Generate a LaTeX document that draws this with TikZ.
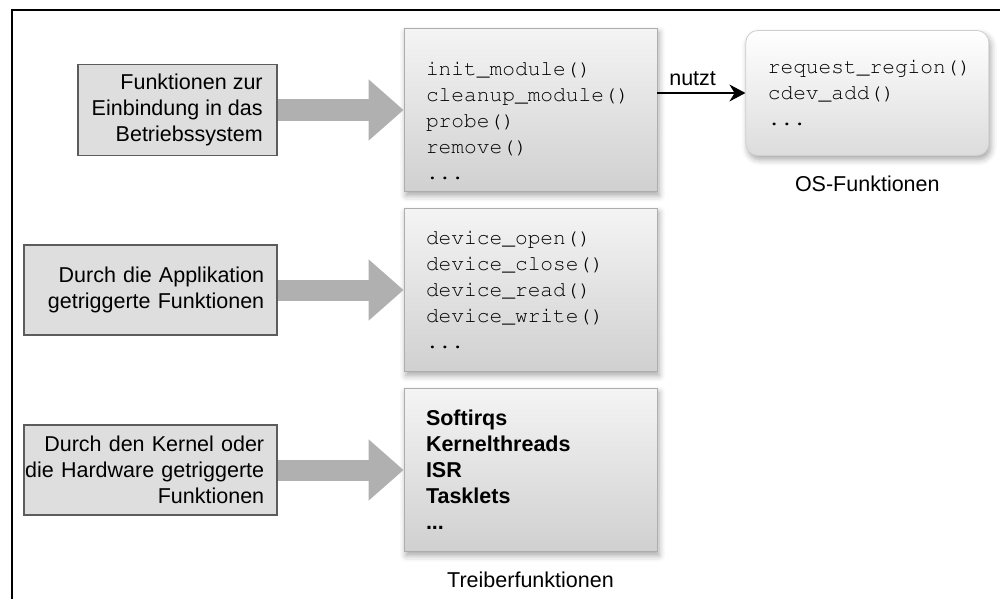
\documentclass[tikz,border=0pt]{standalone}
\usepackage[T1]{fontenc}
\usepackage{fontspec}
\setmainfont{Liberation Sans}
\usetikzlibrary{positioning,arrows.meta,shadows.blur}

\definecolor{srcfill}{HTML}{DEDEDE}
\definecolor{srcedge}{HTML}{5C5C5C}
\definecolor{functop}{HTML}{F4F4F4}
\definecolor{funcbot}{HTML}{D0D0D0}
\definecolor{funcedge}{HTML}{ADADAD}
\definecolor{osbot}{HTML}{DCDCDC}
\definecolor{osedge}{HTML}{CFCFCF}
\definecolor{fatgray}{HTML}{B0B0B0}

\newcommand\txtfont{\fontsize{10.75}{13}\selectfont}
\newcommand\codefont{\fontencoding{T1}\fontfamily{pcr}\fontsize{10.6}{13}\selectfont}
\newcommand\listfont{\bfseries\fontsize{10.75}{13}\selectfont}
\newcommand\rpad{\hbox to 6pt{}}

\begin{document}
\begin{tikzpicture}[node distance=90pt, font=\txtfont]

    \tikzstyle{srcbox} = [rectangle, draw=srcedge, line width=0.9pt, fill=srcfill, align=right, minimum height=45pt]
    \tikzstyle{funcbox} = [rectangle, draw=funcedge, top color=functop, bottom color=funcbot, minimum width=126.5pt, minimum height=81.5pt, text width=104.5pt, inner xsep=11pt, align=left, blur shadow={shadow xshift=1pt, shadow yshift=-2pt, shadow blur radius=3pt, shadow opacity=35}]
    \tikzstyle{osbox} = [rectangle, rounded corners=6pt, draw=osedge, top color=white, bottom color=osbot, minimum width=121.5pt, minimum height=62.5pt, text width=99.5pt, inner xsep=11pt, align=left, blur shadow={shadow xshift=1pt, shadow yshift=-2pt, shadow blur radius=3pt, shadow opacity=35}]
    \tikzstyle{fatarrow} = [line width=10.5pt, draw=fatgray, -{Triangle[width=29.5pt,length=17.5pt]}]
    \tikzstyle{arrow} = [line width=0.8pt, -{Stealth[length=8pt,width=8.5pt]}]

    \useasboundingbox (0,0) rectangle (500pt,-299.5pt);
    \draw [line width=1pt] (6pt,-299.5pt) -- (6pt,-5pt) -- (500pt,-5pt);

    % driver functions
    \node (fmod) [funcbox, font=\codefont] at (265.25pt,-55pt) {\rule{0pt}{17.5pt}init\_module()\\ cleanup\_module()\\ probe()\\ remove()\\ ...};

    \node (fdev) [funcbox, font=\codefont, below of=fmod] {device\_open()\\ device\_close()\\ device\_read()\\ device\_write()\\ ...};

    \node (fhw) [funcbox, font=\listfont, below of=fdev] {Softirqs\\ Kernelthreads\\ ISR\\ Tasklets\\ ...};

    \node (treiber) [below=6.5pt of fhw] {Treiberfunktionen};

    % who calls them
    \node (lboot) [srcbox, left=63pt of fmod, inner xsep=7pt, minimum width=99.5pt, minimum height=45.5pt] {Funktionen zur\\ Einbindung in das\\ Betriebssystem};

    \node (lapp) [srcbox, left=63pt of fdev, text width=126pt, inner xsep=0.25pt] {Durch die Applikation\rpad\\ getriggerte Funktionen\rpad};

    \node (lhw) [srcbox, left=63pt of fhw, text width=126pt, inner xsep=0.25pt] {Durch den Kernel oder\rpad\\ die Hardware getriggerte\rpad\\ Funktionen\rpad};

    % kernel side
    \node (osf) [osbox, font=\codefont, right=44pt of fmod.north east, anchor=north west, yshift=-1pt] {request\_region()\\ cdev\_add()\\ ...};

    \node (oslabel) [below=6.5pt of osf] {OS-Funktionen};

    \draw [fatarrow] (lboot) -- (fmod);
    \draw [fatarrow] (lapp) -- (fdev);
    \draw [fatarrow] (lhw) -- (fhw);
    \draw [arrow] (osf.west -| fmod.east) -- (osf.west) node [pos=0.4, above] {nutzt};

\end{tikzpicture}
\end{document}
